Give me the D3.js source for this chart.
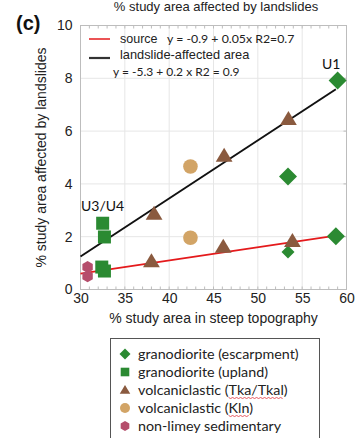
<!DOCTYPE html>
<html>
<head>
<meta charset="utf-8">
<script src="https://cdn.jsdelivr.net/npm/d3@7"></script>
<style>
  html, body { margin: 0; padding: 0; background: #fff; }
  svg { display: block; }
</style>
</head>
<body>
<svg id="chart" width="357" height="438"></svg>
<script>
// ---- data: % study area in steep topography (x) vs % area affected by landslides (y)
const escarpmentX = [59.0, 53.4, 58.8, 53.4];
const escarpmentY = [7.92, 4.28, 2.02, 1.42];
const uplandX = [32.5, 32.7, 32.4, 32.7];
const uplandY = [2.51, 1.99, 0.85, 0.70];
const tkaX = [38.3, 38.0, 46.1, 53.9, 46.2, 53.45];
const tkaY = [2.87, 1.07, 1.62, 1.84, 5.07, 6.46];
const klnX = [42.4, 42.4];
const klnY = [4.66, 1.96];
const sedX = [30.8, 30.8];
const sedY = [0.85, 0.50];

// regression fits: [intercept, slope, xStart, xEnd]
const sourceFit = [-0.9, 0.05, 30, 59];
const affectedFit = [-5.35, 0.22, 30, 58.8];

const xTicks = [30, 35, 40, 45, 50, 55, 60];
const yTicks = [0, 2, 4, 6, 8, 10];

const seriesNames = [
  "granodiorite (escarpment)",
  "granodiorite (upland)",
  "volcaniclastic (Tka/Tkal)",
  "volcaniclastic (Kln)",
  "non-limey sedimentary"
];
const seriesColors = ["#2b8a32", "#2b8a32", "#8a5a3f", "#d2a466", "#b54e6c"];

// ---- layout
const svg = d3.select("#chart");
const plot = { left: 80.5, right: 346.5, top: 25.5, bottom: 289.5 };
const x = d3.scaleLinear().domain([30, 60]).range([plot.left, plot.right]);
const y = d3.scaleLinear().domain([0, 10]).range([plot.bottom, plot.top]);

const ARIAL = "'Liberation Sans', Arial, sans-serif";
const CALIBRI = "Lato, 'Open Sans', sans-serif";

// title
svg.append("text")
  .attr("x", 216).attr("y", 11)
  .attr("text-anchor", "middle")
  .attr("font-family", ARIAL).attr("font-size", 13).attr("fill", "#222")
  .text("% study area affected by landslides");

// panel letter
svg.append("text")
  .attr("x", 16).attr("y", 30)
  .attr("font-family", ARIAL).attr("font-weight", "bold")
  .attr("font-size", 20).attr("fill", "#111")
  .text("(c)");

// gridlines
const grid = svg.append("g");
grid.selectAll("line.gx").data(xTicks.slice(1, -1)).join("line")
  .attr("x1", d => x(d)).attr("x2", d => x(d))
  .attr("y1", plot.top).attr("y2", plot.bottom)
  .attr("stroke", "#e6e6e6").attr("stroke-width", 1);
grid.selectAll("line.gy").data(yTicks.slice(1, -1)).join("line")
  .attr("x1", plot.left).attr("x2", plot.right)
  .attr("y1", d => y(d)).attr("y2", d => y(d))
  .attr("stroke", "#e6e6e6").attr("stroke-width", 1);

// plot frame
svg.append("rect")
  .attr("x", plot.left).attr("y", plot.top)
  .attr("width", plot.right - plot.left).attr("height", plot.bottom - plot.top)
  .attr("fill", "none").attr("stroke", "#bdbdbd").attr("stroke-width", 1);

// axes: inward minor ticks every unit on x, labels on the majors
const minorX = d3.range(31, 60, 1);
const xAxisB = d3.axisBottom(x).tickValues(xTicks).tickSize(0).tickPadding(4).tickFormat(d3.format("d"));
const gxb = svg.append("g").attr("transform", `translate(0,${plot.bottom})`).call(xAxisB);
gxb.select(".domain").remove();
gxb.selectAll("text").attr("font-family", ARIAL).attr("font-size", 14).attr("fill", "#222");
svg.append("g").selectAll("line").data(minorX).join("line")
  .attr("x1", d => x(d)).attr("x2", d => x(d))
  .attr("y1", plot.bottom).attr("y2", plot.bottom - 3)
  .attr("stroke", "#bdbdbd");
svg.append("g").selectAll("line").data(minorX).join("line")
  .attr("x1", d => x(d)).attr("x2", d => x(d))
  .attr("y1", plot.top).attr("y2", plot.top + 3)
  .attr("stroke", "#bdbdbd");

const yAxisL = d3.axisLeft(y).tickValues(yTicks).tickSize(0).tickPadding(8).tickFormat(d3.format("d"));
const gyl = svg.append("g").attr("transform", `translate(${plot.left},0)`).call(yAxisL);
gyl.select(".domain").remove();
gyl.selectAll("text").attr("font-family", ARIAL).attr("font-size", 14).attr("fill", "#222");
// short gray marks on the right frame at the majors
svg.append("g").selectAll("line").data(yTicks.slice(1, -1)).join("line")
  .attr("x1", plot.right).attr("x2", plot.right - 3)
  .attr("y1", d => y(d)).attr("y2", d => y(d))
  .attr("stroke", "#bdbdbd");

// axis titles
svg.append("text")
  .attr("x", x(45)).attr("y", 323)
  .attr("text-anchor", "middle")
  .attr("font-family", ARIAL).attr("font-size", 14).attr("fill", "#222")
  .text("% study area in steep topography");
svg.append("text")
  .attr("transform", `translate(46,${(plot.top + plot.bottom) / 2}) rotate(-90)`)
  .attr("text-anchor", "middle")
  .attr("font-family", ARIAL).attr("font-size", 14).attr("fill", "#222")
  .text("% study area affected by landslides");

// regression lines
function fitLine(fit, color, width) {
  const [a, b, x0, x1] = fit;
  svg.append("line")
    .attr("x1", x(x0)).attr("y1", y(a + b * x0))
    .attr("x2", x(x1)).attr("y2", y(a + b * x1))
    .attr("stroke", color).attr("stroke-width", width);
}
fitLine(affectedFit, "#111", 2);
fitLine(sourceFit, "#e41a1c", 1.6);

// marker shapes
function hexPath(r) {
  const pts = d3.range(6).map(i => {
    const a = Math.PI / 6 + i * Math.PI / 3;
    return [r * Math.cos(a), r * Math.sin(a)];
  });
  return "M" + pts.map(p => p.join(",")).join("L") + "Z";
}
function diamondPath(r) { return `M0,${-r}L${r},0L0,${r}L${-r},0Z`; }
function squarePath(r) { return `M${-r},${-r}H${r}V${r}H${-r}Z`; }
function trianglePath(r) { return `M0,${-r}L${r * 1.05},${r * 0.75}L${-r * 1.05},${r * 0.75}Z`; }
function circlePath(r) { return d3.arc()({ innerRadius: 0, outerRadius: r, startAngle: 0, endAngle: 2 * Math.PI }); }
const shapeFns = [diamondPath, squarePath, trianglePath, circlePath, hexPath];

function plotSeries(xs, ys, k, r) {
  svg.append("g").selectAll("path").data(xs.map((v, i) => [v, ys[i]])).join("path")
    .attr("transform", d => `translate(${x(d[0])},${y(d[1])})`)
    .attr("d", shapeFns[k](r))
    .attr("fill", seriesColors[k]);
}
plotSeries(sedX, sedY, 4, 6);
plotSeries(klnX, klnY, 3, 7.3);
plotSeries(escarpmentX.slice(3), escarpmentY.slice(3), 0, 6.5);
plotSeries(tkaX, tkaY, 2, 8);
plotSeries(uplandX, uplandY, 1, 6.5);
plotSeries(escarpmentX.slice(0, 3), escarpmentY.slice(0, 3), 0, 9);

// site labels
svg.append("text").attr("x", 322).attr("y", 69)
  .attr("font-family", CALIBRI).attr("font-size", 14).attr("fill", "#111").text("U1");
svg.append("text").attr("x", 81).attr("y", 211)
  .attr("font-family", CALIBRI).attr("font-size", 14).attr("fill", "#111").text("U3/U4");

// line key inside the plot
const key = svg.append("g");
key.append("line").attr("x1", 89).attr("x2", 110).attr("y1", 39).attr("y2", 39)
  .attr("stroke", "#e41a1c").attr("stroke-width", 1.5);
key.append("text").attr("x", 120).attr("y", 43)
  .attr("font-family", ARIAL).attr("font-size", 12.5).attr("fill", "#222").text("source");
key.append("text").attr("x", 167).attr("y", 43)
  .attr("font-family", CALIBRI).attr("font-size", 12.3).attr("fill", "#222").text("y = -0.9 + 0.05x R2=0.7");
key.append("line").attr("x1", 89).attr("x2", 110).attr("y1", 58).attr("y2", 58)
  .attr("stroke", "#333").attr("stroke-width", 2.2);
key.append("text").attr("x", 120).attr("y", 59)
  .attr("font-family", ARIAL).attr("font-size", 12.8).attr("fill", "#222").text("landslide-affected area");
key.append("text").attr("x", 113).attr("y", 76)
  .attr("font-family", CALIBRI).attr("font-size", 12).attr("fill", "#222").text("y = -5.3 + 0.2 x  R2 = 0.9");

// symbol legend below the chart
const lg = svg.append("g");
lg.append("rect").attr("x", 110.5).attr("y", 338.5).attr("width", 209).attr("height", 100)
  .attr("fill", "#fff").attr("stroke", "#555").attr("stroke-width", 1);
const legendR = [5.5, 4.3, 5, 5, 5];
const rowY = d3.scalePoint().domain(seriesNames).range([354, 426]);
// words flagged by the editor's spell checker
const flagged = { 2: "Tka/Tkal", 3: "Kln" };
seriesNames.forEach((name, k) => {
  lg.append("path")
    .attr("transform", `translate(125,${rowY(name)})`)
    .attr("d", shapeFns[k](legendR[k]))
    .attr("fill", seriesColors[k]);
  const t = lg.append("text").attr("x", 138).attr("y", rowY(name) + 4.5)
    .attr("font-family", CALIBRI).attr("font-size", 14.3).attr("fill", "#222").text(name);
  if (flagged[k]) {
    const node = t.node();
    const start = name.indexOf(flagged[k]);
    const x0 = 138 + node.getSubStringLength(0, start);
    const w = node.getSubStringLength(start, flagged[k].length);
    const yy = rowY(name) + 7.5;
    const pts = d3.range(0, Math.floor(w / 2) + 1).map(i => [x0 + i * 2, yy + (i % 2 ? 1 : 0)]);
    lg.append("path").attr("d", d3.line()(pts))
      .attr("fill", "none").attr("stroke", "#e0303a").attr("stroke-width", 0.8);
  }
});
</script>
</body>
</html>
